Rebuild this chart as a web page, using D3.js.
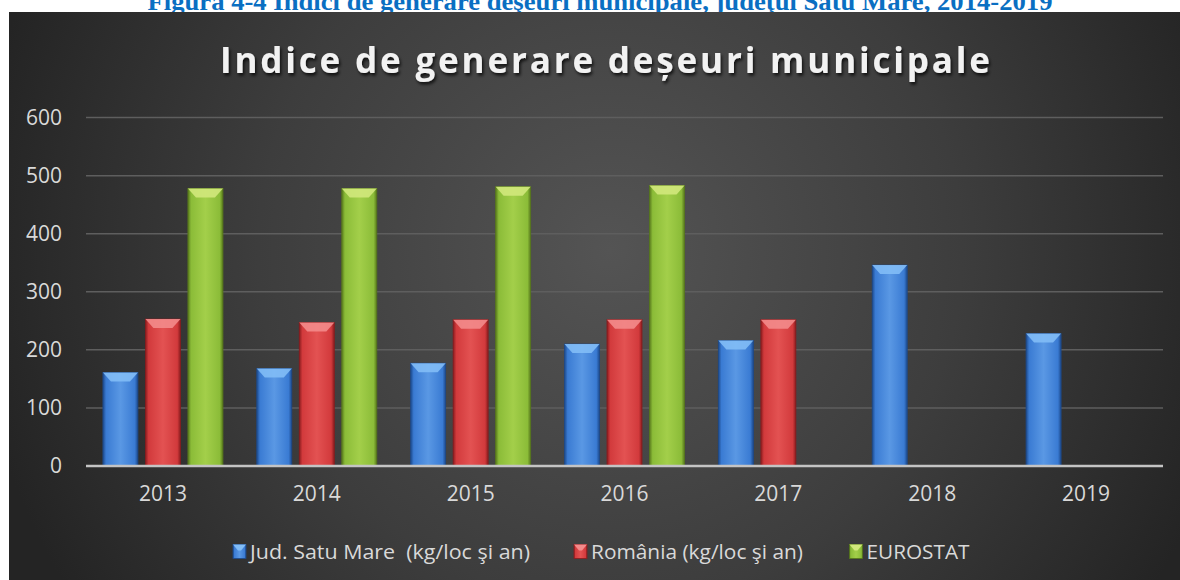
<!DOCTYPE html>
<html>
<head>
<meta charset="utf-8">
<script src="https://cdn.jsdelivr.net/npm/d3@7"></script>
<style>
    body { margin: 0; background: #ffffff; }
    svg { display: block; }
    text { font-family: "Open Sans", "Noto Sans", sans-serif; }
</style>
</head>
<body>
<script>
// chart values
var years = ['2013', '2014', '2015', '2016', '2017', '2018', '2019'];
var seriesNames = ['Jud. Satu Mare  (kg/loc şi an)', 'România (kg/loc şi an)', 'EUROSTAT'];
var judSatuMare = [161, 168, 177, 210, 216, 346, 228];
var romania = [253, 247, 252, 252, 252, null, null];
var eurostat = [478, 478, 481, 483, null, null, null];
var yTicks = [0, 100, 200, 300, 400, 500, 600];
var chartTitle = 'Indice de generare deșeuri municipale';
var figureCaption = 'Figura 4-4 Indici de generare deşeuri municipale, judeţul Satu Mare, 2014-2019';

function drawChart() {
    var w = 1180;
    var h = 580;
    var plot = {left: 86, right: 1163, top: 117.6, bottom: 466};
    var allSeries = [judSatuMare, romania, eurostat];
    var palette = [
        {base: '#3a7bd3', light: '#5a98e4', dark: '#1d4a8c', top: '#82bdf6'},
        {base: '#d23a3c', light: '#e35252', dark: '#8a1c1e', top: '#f38b8b'},
        {base: '#8bbc38', light: '#a3cf4a', dark: '#58791c', top: '#d2e87c'}
    ];

    var svg = d3.select('body').append('svg')
        .attr('width', w)
        .attr('height', h);
    var defs = svg.append('defs');

    // background
    var bg = defs.append('radialGradient')
        .attr('id', 'bgGrad')
        .attr('gradientUnits', 'userSpaceOnUse')
        .attr('cx', 610).attr('cy', 250).attr('r', 640);
    bg.append('stop').attr('offset', '0%').attr('stop-color', '#545454');
    bg.append('stop').attr('offset', '55%').attr('stop-color', '#3d3d3d');
    bg.append('stop').attr('offset', '100%').attr('stop-color', '#242424');

    var shadow = defs.append('filter').attr('id', 'titleShadow')
        .attr('x', '-5%').attr('y', '-30%').attr('width', '110%').attr('height', '160%');
    shadow.append('feDropShadow')
        .attr('dx', 1.5).attr('dy', 2.5).attr('stdDeviation', 1.8)
        .attr('flood-color', '#000').attr('flood-opacity', 0.75);

    palette.forEach(function (c, i) {
        var g = defs.append('linearGradient')
            .attr('id', 'barGrad' + i)
            .attr('x1', '0%').attr('x2', '100%').attr('y1', '0%').attr('y2', '0%');
        g.append('stop').attr('offset', '0%').attr('stop-color', c.dark);
        g.append('stop').attr('offset', '9%').attr('stop-color', c.base);
        g.append('stop').attr('offset', '50%').attr('stop-color', c.light);
        g.append('stop').attr('offset', '91%').attr('stop-color', c.base);
        g.append('stop').attr('offset', '100%').attr('stop-color', c.dark);
    });

    // caption above the chart (the chart box covers its lower part, as in the source page)
    svg.append('text')
        .attr('x', 600).attr('y', 10)
        .attr('text-anchor', 'middle')
        .style('font-family', '"Liberation Serif", "DejaVu Serif", serif')
        .style('font-weight', 'bold')
        .style('font-size', '25px')
        .attr('fill', '#0a6fc2')
        .attr('textLength', 905)
        .attr('lengthAdjust', 'spacingAndGlyphs')
        .text(figureCaption);

    svg.append('rect')
        .attr('x', 9).attr('y', 12)
        .attr('width', w - 9).attr('height', h - 12)
        .attr('fill', 'url(#bgGrad)');

    svg.append('text')
        .attr('x', 605).attr('y', 73)
        .attr('text-anchor', 'middle')
        .style('font-weight', 'bold')
        .style('font-size', '35px')
        .attr('fill', '#f2f2f2')
        .attr('filter', 'url(#titleShadow)')
        .attr('textLength', 770)
        .text(chartTitle);

    // scales
    var x0 = d3.scaleBand()
        .domain(years)
        .range([plot.left, plot.right])
        .paddingInner(0)
        .paddingOuter(0);
    var x1 = d3.scaleBand()
        .domain([0, 1, 2])
        .range([0, x0.bandwidth()])
        .paddingInner(0.176)
        .paddingOuter(0.398);
    var y = d3.scaleLinear()
        .domain([0, 600])
        .range([plot.bottom, plot.top]);

    // gridlines
    svg.append('g').selectAll('line')
        .data(yTicks.filter(function (d) { return d > 0; }))
        .enter()
        .append('line')
        .attr('x1', plot.left).attr('x2', plot.right)
        .attr('y1', function (d) { return y(d); })
        .attr('y2', function (d) { return y(d); })
        .attr('stroke', '#5e5e5e')
        .attr('stroke-width', 1.5);

    var yAxis = svg.append('g')
        .attr('transform', 'translate(' + (plot.left - 24) + ',0)')
        .call(d3.axisLeft(y).tickValues(yTicks).tickSize(0).tickPadding(0));
    yAxis.select('.domain').remove();
    yAxis.selectAll('text')
        .style('font-size', '21px')
        .style('font-family', '"Open Sans", sans-serif')
        .attr('fill', '#d9d9d9');

    // bars
    var rows = [];
    for (var i = 0; i < years.length; i++) {
        for (var s = 0; s < allSeries.length; s++) {
            if (allSeries[s][i] !== null) {
                rows.push({year: years[i], series: s, value: allSeries[s][i]});
            }
        }
    }

    var bars = svg.append('g').selectAll('g.bar')
        .data(rows)
        .enter()
        .append('g')
        .classed('bar', true);

    bars.append('rect')
        .attr('x', function (d) { return x0(d.year) + x1(d.series); })
        .attr('y', function (d) { return y(d.value); })
        .attr('width', x1.bandwidth())
        .attr('height', function (d) { return plot.bottom - y(d.value); })
        .attr('fill', function (d) { return 'url(#barGrad' + d.series + ')'; })
        .attr('stroke', function (d) { return palette[d.series].dark; })
        .attr('stroke-width', 0.8);

    bars.append('polygon')
        .attr('points', function (d) {
            var bx = x0(d.year) + x1(d.series);
            var by = y(d.value);
            var bw = x1.bandwidth();
            return [[bx, by], [bx + bw, by], [bx + bw - 8, by + 9], [bx + 8, by + 9]].join(' ');
        })
        .attr('fill', function (d) { return palette[d.series].top; })
        .attr('opacity', 0.9);

    // x axis line and labels
    svg.append('line')
        .attr('x1', plot.left).attr('x2', plot.right)
        .attr('y1', plot.bottom).attr('y2', plot.bottom)
        .attr('stroke', '#c4c4c4')
        .attr('stroke-width', 2.5);

    var xAxis = svg.append('g')
        .attr('transform', 'translate(0,' + (plot.bottom + 20) + ')')
        .call(d3.axisBottom(x0).tickSize(0).tickPadding(0));
    xAxis.select('.domain').remove();
    xAxis.selectAll('text')
        .style('font-size', '21px')
        .style('font-family', '"Open Sans", sans-serif')
        .attr('fill', '#d9d9d9');

    // legend
    var legendX = [233, 574, 849.5];
    var legendWidths = [280, 212, 103];
    var legend = svg.append('g').selectAll('g.legend')
        .data(seriesNames)
        .enter()
        .append('g')
        .classed('legend', true)
        .attr('transform', function (d, i) { return 'translate(' + legendX[i] + ',551.5)'; });
    legend.append('rect')
        .attr('x', 0).attr('y', -7)
        .attr('width', 13).attr('height', 14)
        .attr('fill', function (d, i) { return 'url(#barGrad' + i + ')'; })
        .attr('stroke', function (d, i) { return palette[i].dark; })
        .attr('stroke-width', 0.8);
    legend.append('polygon')
        .attr('points', '0,-7 13,-7 8,-1 5,-1')
        .attr('fill', function (d, i) { return palette[i].top; });
    legend.append('text')
        .attr('x', 17)
        .attr('dy', '0.35em')
        .style('font-size', '20px')
        .style('white-space', 'pre')
        .attr('fill', '#d9d9d9')
        .attr('textLength', function (d, i) { return legendWidths[i]; })
        .attr('lengthAdjust', 'spacingAndGlyphs')
        .text(function (d) { return d; });
}

drawChart();
</script>
</body>
</html>
